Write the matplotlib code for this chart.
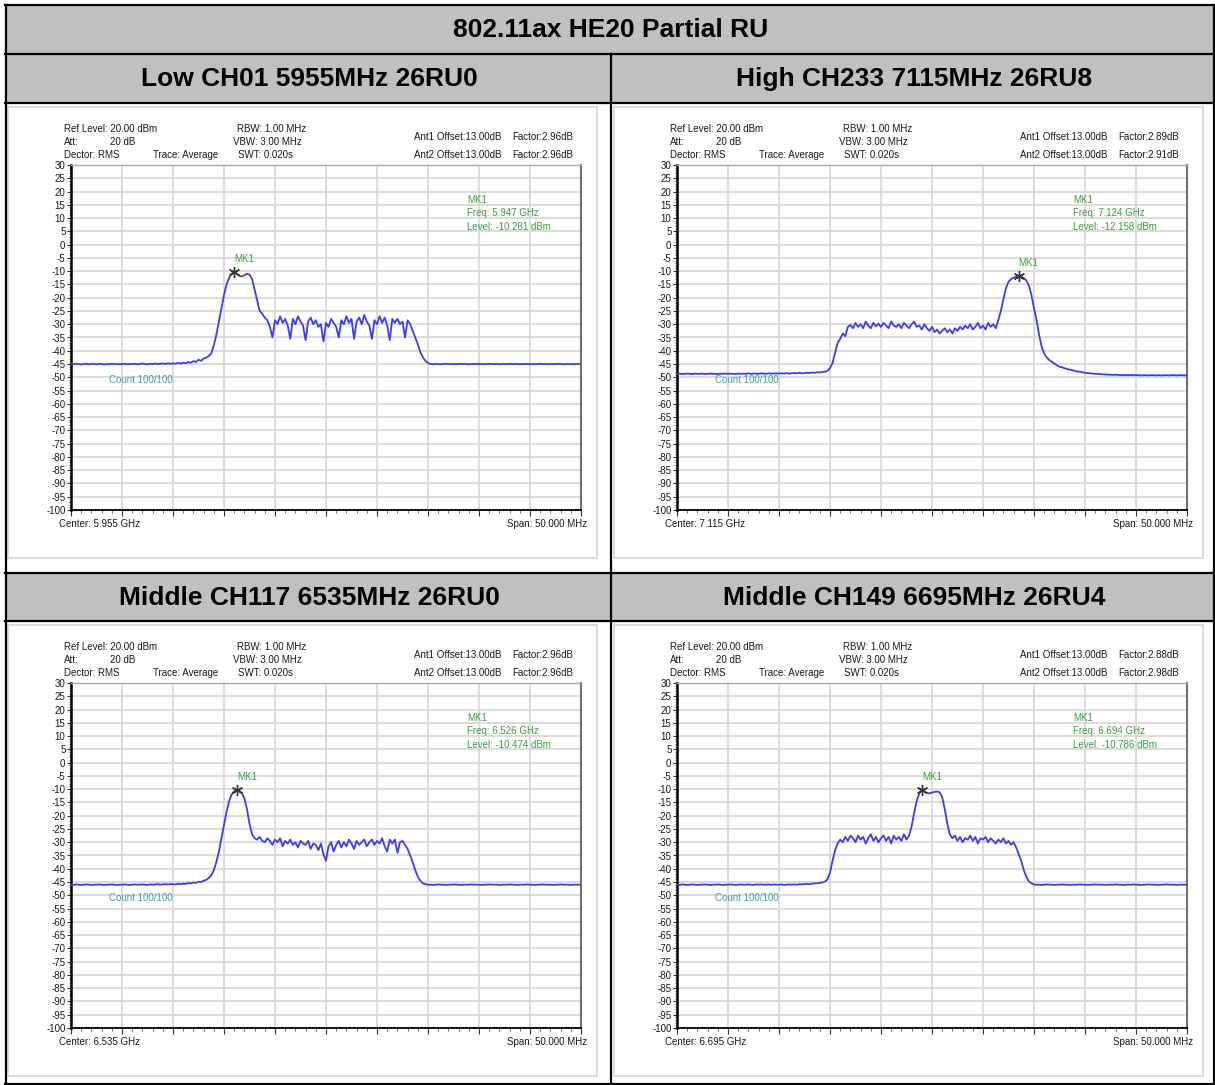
import numpy as np
import matplotlib
matplotlib.use('Agg')
import matplotlib.pyplot as plt
from matplotlib.patches import Rectangle
from matplotlib.lines import Line2D
from matplotlib.ticker import MultipleLocator

W, H = 1215, 1085

TITLE = '802.11ax HE20 Partial RU'
HEADERS = ['Low CH01 5955MHz 26RU0', 'High CH233 7115MHz 26RU8',
           'Middle CH117 6535MHz 26RU0', 'Middle CH149 6695MHz 26RU4']
CENTERS = ['5.955', '7.115', '6.535', '6.695']
MK_FREQ = ['5.947', '7.124', '6.526', '6.694']
MK_LEVEL = ['-10.281', '-12.158', '-10.474', '-10.786']
FACTOR1 = ['2.96', '2.89', '2.96', '2.88']
FACTOR2 = ['2.96', '2.91', '2.96', '2.98']

# frequency offset from center, MHz (0.25 MHz per point)
OFFSET_MHZ = np.arange(-25, 25.01, 0.25)

LOW_CH01 = [
    -45.0, -45.1, -44.9, -45.0, -45.2, -45.0, -44.9, -45.1, -45.0, -45.0, -45.1, -44.9, -45.0, -45.2, -45.0, -45.1, -44.9, -45.0, -45.0, -45.1,
    -45.0, -44.9, -45.1, -45.0, -45.0, -44.9, -45.1, -45.0, -44.8, -45.0, -45.1, -44.9, -45.0, -44.8, -45.0, -44.9, -44.8, -45.0, -44.7, -44.9,
    -44.8, -44.9, -44.6, -44.8, -44.5, -44.7, -44.2, -44.5, -43.9, -44.2, -43.4, -43.8, -42.9, -42.6, -42.0, -41.0, -38.0, -34.0, -29.0, -24.0,
    -19.0, -15.0, -12.5, -11.0, -10.3, -11.0, -11.8, -12.0, -11.5, -11.0, -11.3, -13.0, -17.0, -21.0, -25.0, -26.0, -27.5, -28.5, -31.0, -35.0,
    -28.5, -30.0, -27.0, -29.5, -28.0, -30.5, -35.5, -28.0, -30.0, -27.0, -29.0, -30.5, -36.0, -29.0, -27.5, -30.0, -28.5, -31.0, -30.0, -36.5,
    -29.5, -31.0, -28.0, -29.5, -31.0, -35.0, -28.5, -30.0, -27.0, -29.5, -28.0, -35.5, -29.0, -27.5, -30.0, -26.5, -29.0, -30.5, -35.5, -28.5,
    -30.0, -27.0, -29.5, -27.5, -30.5, -36.0, -28.0, -29.5, -28.0, -30.0, -29.0, -35.0, -28.5, -30.0, -32.5, -35.0, -37.5, -40.5, -42.5, -43.8,
    -44.6, -45.0, -45.1, -45.0, -45.0, -45.1, -45.0, -44.9, -45.0, -45.0, -45.1, -45.0, -45.0, -44.9, -45.0, -45.0, -45.1, -45.0, -45.0, -45.0,
    -45.0, -45.0, -45.1, -45.0, -44.9, -45.0, -45.0, -45.0, -45.1, -45.0, -45.0, -45.0, -44.9, -45.0, -45.0, -45.0, -45.1, -45.0, -45.0, -45.0,
    -45.0, -45.1, -45.0, -45.0, -44.9, -45.0, -45.0, -45.1, -45.0, -45.0, -45.0, -44.9, -45.0, -45.1, -45.0, -45.0, -45.0, -45.1, -45.0, -45.0,
    -45.0,
]

HIGH_CH233 = [
    -48.7, -48.6, -48.8, -48.7, -48.6, -48.7, -48.8, -48.6, -48.7, -48.7, -48.6, -48.8, -48.7, -48.6, -48.7, -48.7, -48.8, -48.6, -48.7, -48.6,
    -48.7, -48.6, -48.7, -48.8, -48.6, -48.7, -48.6, -48.7, -48.5, -48.7, -48.6, -48.6, -48.7, -48.5, -48.6, -48.7, -48.5, -48.6, -48.6, -48.5,
    -48.6, -48.5, -48.6, -48.4, -48.6, -48.5, -48.4, -48.5, -48.3, -48.5, -48.4, -48.3, -48.4, -48.2, -48.3, -48.1, -48.2, -48.0, -47.9, -47.6,
    -46.5, -44.6, -40.8, -37.0, -35.5, -33.5, -34.5, -31.0, -30.3, -31.5, -29.5, -31.0, -30.0, -31.5, -29.0, -30.5, -31.5, -29.5, -30.8, -29.8,
    -31.0, -29.5, -30.5, -31.5, -29.0, -30.5, -31.0, -30.0, -31.5, -29.5, -30.5, -31.5, -30.0, -29.0, -31.0, -30.5, -32.0, -30.0, -31.5, -32.5,
    -31.0, -33.0, -32.0, -33.5, -32.5, -31.5, -33.0, -32.0, -33.5, -31.5, -32.5, -31.0, -32.0, -30.5, -31.5, -30.0, -32.0, -31.0, -29.5, -31.5,
    -30.5, -32.0, -29.5, -31.0, -30.0, -31.5, -28.5, -25.0, -20.5, -16.5, -14.0, -13.0, -12.4, -12.0, -11.8, -12.1, -12.6, -13.5, -15.5, -19.0,
    -24.0, -28.4, -34.0, -38.5, -41.0, -42.5, -43.5, -44.2, -44.8, -45.5, -46.0, -46.2, -46.6, -46.9, -47.1, -47.3, -47.6, -47.8, -47.9, -48.1,
    -48.3, -48.4, -48.5, -48.6, -48.7, -48.7, -48.8, -48.9, -48.9, -49.0, -49.0, -49.1, -49.0, -49.1, -49.2, -49.1, -49.2, -49.2, -49.1, -49.2,
    -49.2, -49.2, -49.3, -49.2, -49.2, -49.3, -49.2, -49.2, -49.3, -49.2, -49.3, -49.2, -49.2, -49.3, -49.2, -49.2, -49.3, -49.2, -49.2, -49.3,
    -49.2,
]

MID_CH117 = [
    -46.0, -46.1, -45.9, -46.0, -46.1, -46.0, -45.9, -46.0, -46.1, -46.0, -46.0, -45.9, -46.0, -46.1, -46.0, -46.0, -45.9, -46.0, -46.1, -46.0,
    -46.0, -45.9, -46.0, -46.1, -46.0, -45.9, -46.0, -46.0, -45.9, -46.0, -46.1, -45.9, -46.0, -45.9, -45.8, -46.0, -45.9, -45.8, -45.9, -45.8,
    -45.8, -45.9, -45.7, -45.8, -45.6, -45.7, -45.4, -45.5, -45.2, -45.3, -44.9, -45.0, -44.5, -44.2, -43.5, -42.5, -40.5, -37.5, -33.5, -28.5,
    -23.5, -18.5, -14.5, -12.0, -10.8, -10.3, -10.6, -11.5, -13.5, -17.5, -23.0, -27.0, -28.5, -29.0, -28.0, -29.5, -30.0, -28.5, -29.5, -31.0,
    -29.0, -30.0, -28.5, -31.5, -29.5, -30.5, -29.0, -31.0, -30.0, -32.0, -29.5, -30.5, -31.0, -29.5, -32.5, -30.5, -31.0, -33.0, -30.5, -34.5,
    -37.0, -31.5, -30.0, -33.5, -31.0, -29.5, -32.0, -30.0, -31.5, -29.0, -30.5, -32.5, -29.5, -31.0, -30.0, -29.0, -31.5, -30.0, -29.0, -31.0,
    -29.5, -30.5, -28.5, -31.5, -33.5, -29.0, -30.5, -29.0, -34.0, -30.0, -29.5, -31.0, -32.5, -35.0, -37.5, -40.5, -43.0, -44.5, -45.5, -45.8,
    -46.0, -46.0, -46.1, -46.0, -45.9, -46.0, -46.0, -46.1, -46.0, -46.0, -45.9, -46.0, -46.0, -46.1, -46.0, -46.0, -46.0, -45.9, -46.0, -46.0,
    -46.0, -46.1, -46.0, -46.0, -45.9, -46.0, -46.0, -46.0, -46.1, -46.0, -46.0, -46.0, -45.9, -46.0, -46.0, -46.1, -46.0, -46.0, -46.0, -45.9,
    -46.0, -46.0, -46.1, -46.0, -46.0, -45.9, -46.0, -46.0, -46.0, -46.1, -46.0, -46.0, -45.9, -46.0, -46.0, -46.0, -46.1, -46.0, -46.0, -46.0,
    -46.0,
]

MID_CH149 = [
    -46.0, -46.1, -45.9, -46.0, -46.1, -46.0, -45.9, -46.0, -46.1, -46.0, -46.0, -45.9, -46.0, -46.1, -46.0, -46.0, -45.9, -46.0, -46.1, -46.0,
    -46.0, -45.9, -46.0, -46.1, -46.0, -45.9, -46.0, -46.0, -45.9, -46.0, -46.1, -45.9, -46.0, -45.9, -46.0, -46.0, -45.9, -46.1, -45.9, -46.0,
    -46.0, -45.9, -46.1, -46.0, -45.9, -46.0, -45.9, -46.0, -45.8, -45.9, -45.8, -45.7, -45.8, -45.6, -45.5, -45.5, -45.3, -45.2, -44.8, -44.0,
    -41.5, -37.0, -33.0, -30.5, -29.0, -30.0, -28.0, -29.5, -27.5, -28.5, -30.0, -27.5, -29.0, -28.0, -30.5, -28.5, -27.0, -29.5, -28.0, -30.0,
    -28.5, -27.5, -29.5, -28.0, -30.5, -27.5, -29.0, -28.0, -29.5, -27.0, -29.0, -27.5, -24.0, -19.0, -14.5, -11.6, -10.4, -10.9, -11.4, -11.6,
    -11.3, -11.0, -10.9, -11.2, -13.0, -17.5, -23.0, -27.0, -28.5, -27.5, -29.5, -28.0, -30.0, -28.5, -29.0, -27.5, -29.5, -28.0, -30.5, -28.5,
    -29.0, -28.0, -30.0, -28.5, -29.5, -30.5, -29.0, -30.0, -28.5, -30.5, -29.5, -31.0, -30.0, -32.0, -34.5, -37.0, -40.5, -43.0, -44.8, -45.5,
    -45.9, -46.0, -46.0, -46.1, -46.0, -45.9, -46.0, -46.0, -46.1, -46.0, -46.0, -45.9, -46.0, -46.0, -46.1, -46.0, -46.0, -46.0, -45.9, -46.0,
    -46.0, -46.1, -46.0, -46.0, -45.9, -46.0, -46.0, -46.0, -46.1, -46.0, -46.0, -46.0, -45.9, -46.0, -46.0, -46.1, -46.0, -46.0, -46.0, -45.9,
    -46.0, -46.0, -46.1, -46.0, -46.0, -45.9, -46.0, -46.0, -46.0, -46.1, -46.0, -46.0, -45.9, -46.0, -46.0, -46.0, -46.1, -46.0, -46.0, -46.0,
    -46.0,
]

TRACES = [LOW_CH01, HIGH_CH233, MID_CH117, MID_CH149]

# panel placement (pixel offsets of each panel relative to the top-left one)
PANEL_DX = [0, 606, 0, 606]
PANEL_DY = [0, 0, 518, 518]

GRAY = '#c0c0c0'
TRACE_BLUE = '#3c3cf5'
MK_GREEN = '#3aa03a'
COUNT_TEAL = '#40a0a8'
SMALL = dict(fontsize=7, family='Liberation Sans', color='#1a1a1a')
BOLD = dict(family='Liberation Sans', weight='bold', color='black')

plt.rcParams['font.family'] = 'Liberation Sans'

fig = plt.figure(figsize=(W / 100, H / 100), dpi=100)
fig.patch.set_facecolor('white')


def fx(x):
    return x / W


def fy(y):
    return 1 - y / H


def rect(x0, y0, x1, y1, **kw):
    fig.add_artist(Rectangle((fx(x0), fy(y1)), (x1 - x0) / W, (y1 - y0) / H,
                             transform=fig.transFigure, **kw))


def hline(y, x0, x1, **kw):
    fig.add_artist(Line2D([fx(x0), fx(x1)], [fy(y), fy(y)], transform=fig.transFigure, **kw))


def vline(x, y0, y1, **kw):
    fig.add_artist(Line2D([fx(x), fx(x)], [fy(y0), fy(y1)], transform=fig.transFigure, **kw))


def ftext(x, y, s, **kw):
    fig.text(fx(x), fy(y), s, **kw)


# table background rows
rect(6, 6, 1214, 54, facecolor=GRAY, edgecolor='none', zorder=-2)
rect(6, 54, 1214, 103, facecolor=GRAY, edgecolor='none', zorder=-2)
rect(6, 573, 1214, 621, facecolor=GRAY, edgecolor='none', zorder=-2)

HSIZE = 19
ftext(611, 30, TITLE, ha='center', va='center', fontsize=HSIZE, **BOLD)
ftext(309, 79, HEADERS[0], ha='center', va='center', fontsize=HSIZE, **BOLD)
ftext(914, 79, HEADERS[1], ha='center', va='center', fontsize=HSIZE, **BOLD)
ftext(309, 598, HEADERS[2], ha='center', va='center', fontsize=HSIZE, **BOLD)
ftext(914, 598, HEADERS[3], ha='center', va='center', fontsize=HSIZE, **BOLD)

for k, trace in enumerate(TRACES):
    dx, dy = PANEL_DX[k], PANEL_DY[k]

    # light frame of the analyser screenshot
    rect(8 + dx, 107 + dy, 597 + dx, 558 + dy, facecolor='none', edgecolor='#d4d4d4', lw=1.2, zorder=-1)

    ax = fig.add_axes([fx(71 + dx), fy(510 + dy), 510 / W, 345 / H])
    ax.set_xlim(-25, 25)
    ax.set_ylim(-100, 30)
    ax.set_xticks(np.arange(-25, 26, 5))
    ax.set_xticklabels([])
    ax.xaxis.set_minor_locator(MultipleLocator(1))
    ax.set_yticks(np.arange(-100, 31, 5))
    ax.set_yticklabels([str(v) for v in range(-100, 31, 5)], fontsize=7, color='#1a1a1a')
    ax.yaxis.set_minor_locator(MultipleLocator(1))
    ax.tick_params(axis='x', which='major', length=4, width=0.8, color='#333333')
    ax.tick_params(axis='x', which='minor', length=2, width=0.6, color='#555555')
    ax.tick_params(axis='y', which='major', length=3, width=0.8, color='#333333', pad=1)
    ax.tick_params(axis='y', which='minor', length=1.5, width=0.5, color='#555555')
    ax.grid(True, which='major', color='#d9d9d9', lw=1.3)
    ax.set_axisbelow(True)
    ax.spines['left'].set_color('black')
    ax.spines['left'].set_linewidth(1.8)
    ax.spines['bottom'].set_color('black')
    ax.spines['bottom'].set_linewidth(1.3)
    ax.spines['top'].set_color('#a8a8a8')
    ax.spines['top'].set_linewidth(1.0)
    ax.spines['right'].set_color('#707070')
    ax.spines['right'].set_linewidth(1.5)

    lv = np.array(trace)
    ax.plot(OFFSET_MHZ, lv, color=TRACE_BLUE, lw=1.3, zorder=3)
    ipk = int(np.argmax(lv))
    ax.plot(OFFSET_MHZ[ipk], lv[ipk], marker=(6, 2, 0), ms=8, mew=1.0,
            color='#333333', zorder=4)
    ax.annotate('MK1', (OFFSET_MHZ[ipk], lv[ipk]), xytext=(0, 6), textcoords='offset points',
                ha='left', va='bottom', fontsize=7, color=MK_GREEN, family='Liberation Sans')

    # header texts of the analyser screen
    ftext(64 + dx, 129 + dy, 'Ref Level: 20.00 dBm', ha='left', va='center', **SMALL)
    ftext(64 + dx, 142 + dy, 'Att:', ha='left', va='center', **SMALL)
    ftext(110 + dx, 142 + dy, '20 dB', ha='left', va='center', **SMALL)
    ftext(64 + dx, 155 + dy, 'Dector: RMS', ha='left', va='center', **SMALL)
    ftext(153 + dx, 155 + dy, 'Trace: Average', ha='left', va='center', **SMALL)
    ftext(237 + dx, 129 + dy, 'RBW: 1.00 MHz', ha='left', va='center', **SMALL)
    ftext(233 + dx, 142 + dy, 'VBW: 3.00 MHz', ha='left', va='center', **SMALL)
    ftext(238 + dx, 155 + dy, 'SWT: 0.020s', ha='left', va='center', **SMALL)
    ftext(414 + dx, 137 + dy, 'Ant1 Offset:13.00dB', ha='left', va='center', **SMALL)
    ftext(512 + dx, 137 + dy, f'Factor:{FACTOR1[k]}dB', ha='left', va='center', **SMALL)
    ftext(414 + dx, 155 + dy, 'Ant2 Offset:13.00dB', ha='left', va='center', **SMALL)
    ftext(512 + dx, 155 + dy, f'Factor:{FACTOR2[k]}dB', ha='left', va='center', **SMALL)

    mk = dict(fontsize=7, family='Liberation Sans', color=MK_GREEN, ha='left', va='center')
    ftext(467 + dx, 200 + dy, 'MK1', **mk)
    ftext(467 + dx, 213 + dy, f'Freq: {MK_FREQ[k]} GHz', **mk)
    ftext(467 + dx, 227 + dy, f'Level: {MK_LEVEL[k]} dBm', **mk)
    ftext(109 + dx, 380 + dy, 'Count 100/100', fontsize=7, family='Liberation Sans',
          color=COUNT_TEAL, ha='left', va='center')

    ftext(59 + dx, 524 + dy, f'Center: {CENTERS[k]} GHz', ha='left', va='center', **SMALL)
    ftext(587 + dx, 524 + dy, 'Span: 50.000 MHz', ha='right', va='center', **SMALL)

# table grid lines
LW = 1.6
hline(5, 5, 1215, color='black', lw=LW)
hline(54, 5, 1215, color='black', lw=LW)
hline(103, 5, 1215, color='black', lw=LW)
hline(573, 5, 1215, color='black', lw=LW)
hline(621, 5, 1215, color='black', lw=LW)
hline(1084, 5, 1215, color='black', lw=LW)
vline(5.5, 5, 1085, color='black', lw=LW)
vline(1214, 5, 1085, color='black', lw=LW)
vline(611, 54, 1085, color='black', lw=LW)

fig.savefig('out.png', dpi=100)
